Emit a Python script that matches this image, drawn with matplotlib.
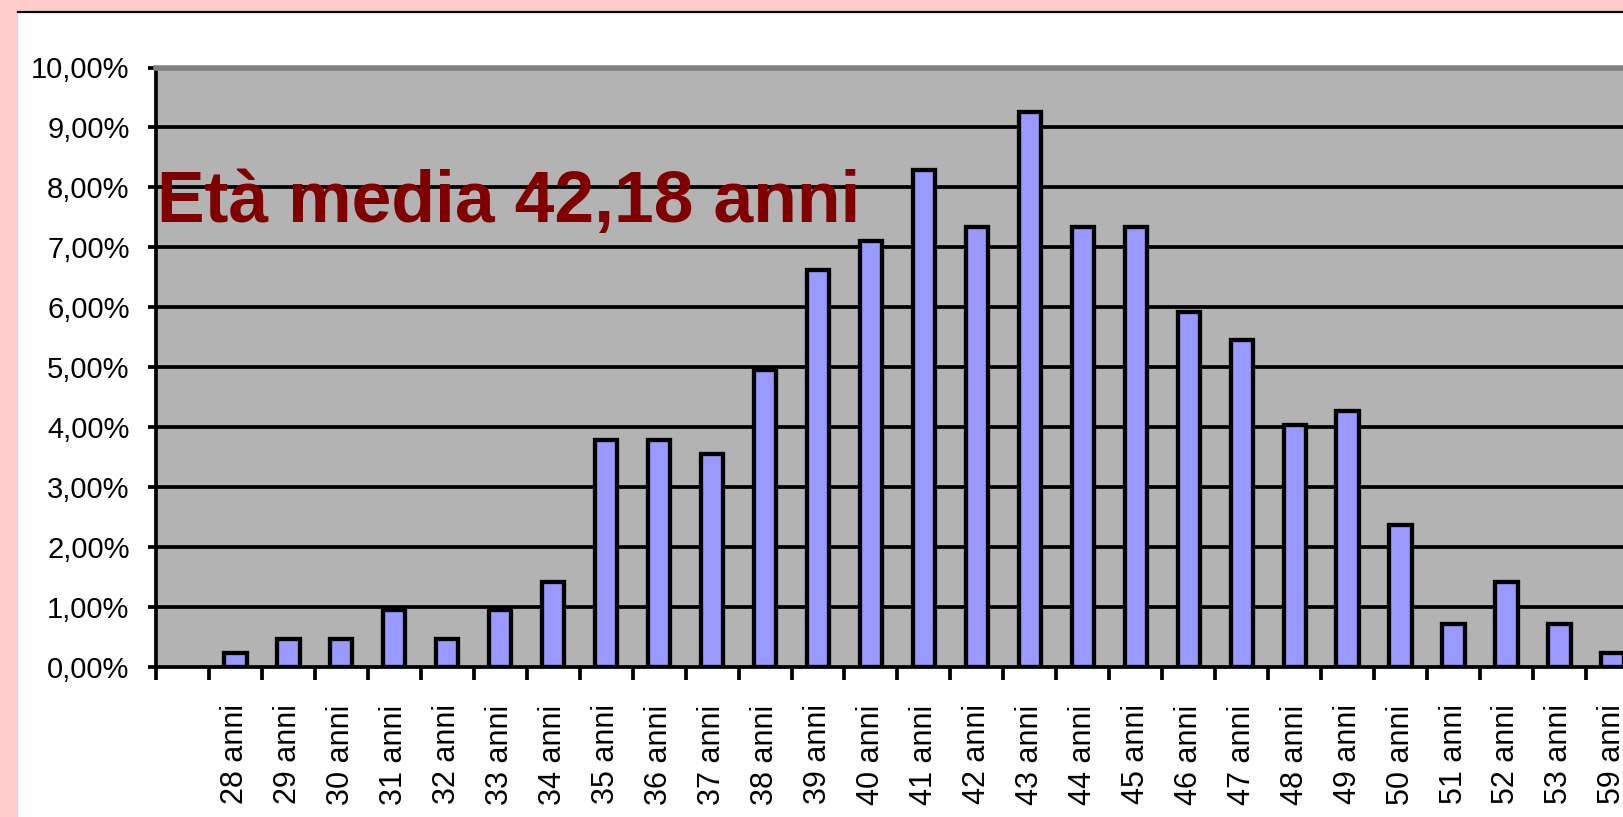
import matplotlib
matplotlib.use("Agg")
import matplotlib.pyplot as plt
from matplotlib.patches import Rectangle
from matplotlib.ticker import FuncFormatter, FixedLocator

# eta' (prima colonna vuota nel grafico originale)
labels = ["", "28 anni", "29 anni", "30 anni", "31 anni", "32 anni", "33 anni",
          "34 anni", "35 anni", "36 anni", "37 anni", "38 anni", "39 anni",
          "40 anni", "41 anni", "42 anni", "43 anni", "44 anni", "45 anni",
          "46 anni", "47 anni", "48 anni", "49 anni", "50 anni", "51 anni",
          "52 anni", "53 anni", "59 anni"]
# percentuali
perc = [0.0, 0.24, 0.47, 0.47, 0.95, 0.47, 0.95,
        1.42, 3.78, 3.78, 3.55, 4.96, 6.63,
        7.10, 8.29, 7.34, 9.25, 7.34, 7.34,
        5.92, 5.45, 4.03, 4.27, 2.37, 0.72,
        1.42, 0.72, 0.24]
yticks = [0, 1, 2, 3, 4, 5, 6, 7, 8, 9, 10]
titolo = "Età media 42,18 anni"

W, H = 1624, 817
fig = plt.figure(figsize=(W / 100, H / 100), dpi=100)
fig.patch.set_facecolor("#FFCCCC")
plt.rcParams['font.family'] = ['Liberation Sans', 'DejaVu Sans']

# pannello bianco
fig.add_artist(Rectangle((18 / W, 0), 1, 1 - 12 / H, transform=fig.transFigure,
                         facecolor="white", edgecolor="none", zorder=0))
fig.add_artist(plt.Line2D([18 / W, 1], [1 - 12 / H, 1 - 12 / H],
                          transform=fig.transFigure, color="black", lw=1.6))

n = len(labels)
slot = 52.96
left, top, bottom = 156, 67.5, 667
ax = fig.add_axes([left / W, (H - bottom) / H, n * slot / W, (bottom - top) / H])
ax.set_facecolor("#B3B3B3")

xs = [i for i in range(n) if perc[i] > 0]
vs = [perc[i] for i in xs]
ax.bar(xs, vs, width=0.42, color="#9999FF", edgecolor="black",
       linewidth=3.1, zorder=3)

ax.set_xlim(-0.5, n - 0.5)
ax.set_ylim(0, 10)

# griglia
for v in yticks[1:-1]:
    ax.axhline(v, color="black", lw=2.7, zorder=1)

ax.spines['top'].set_color("#808080")
ax.spines['top'].set_linewidth(4)
ax.spines['right'].set_visible(False)
ax.spines['left'].set_linewidth(2.7)
ax.spines['bottom'].set_linewidth(2.7)

ax.set_yticks(yticks)
ax.yaxis.set_major_formatter(FuncFormatter(lambda v, p: ("%.2f%%" % v).replace(".", ",")))
ax.tick_params(axis='y', direction='out', length=6, width=2.7, pad=13,
               labelsize=21, colors="black")

ax.set_xticks(range(n))
ax.set_xticklabels(labels, rotation=90)
ax.xaxis.set_minor_locator(FixedLocator([i - 0.5 for i in range(n + 1)]))
ax.tick_params(axis='x', which='major', length=0, pad=27, labelsize=22)
ax.tick_params(axis='x', which='minor', direction='out', length=9.5, width=2.7)

fig.text(157 / W, (H - 222) / H, titolo, fontsize=51.5, fontweight='bold',
         color="#800000", va='baseline', ha='left')

fig.savefig("out.png", dpi=100, facecolor=fig.get_facecolor())
